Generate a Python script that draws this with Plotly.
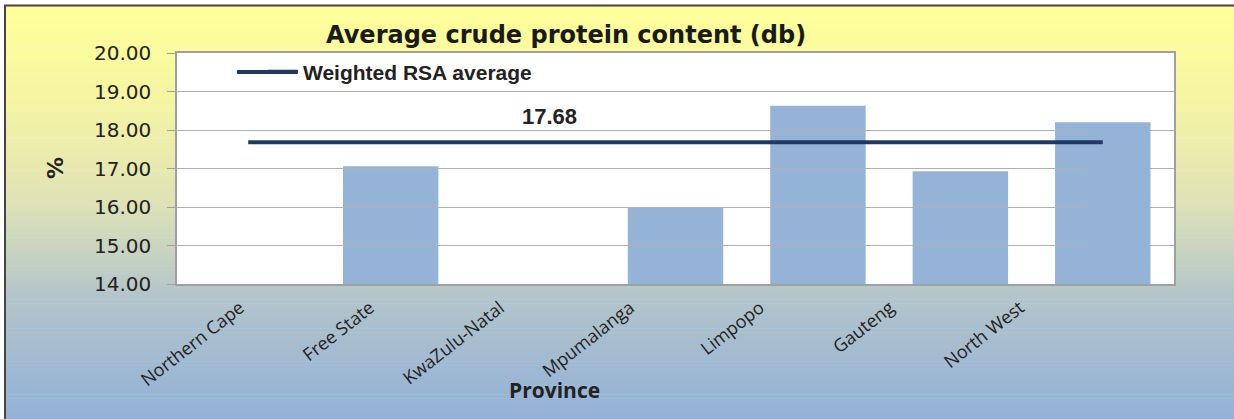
import plotly.graph_objects as go

# Data
provinces = ['Northern Cape', 'Free State', 'KwaZulu-Natal', 'Mpumalanga',
             'Limpopo', 'Gauteng', 'North West']
protein = [None, 17.06, None, 15.99, 18.63, 16.93, 18.20]
rsa_avg = 17.68

W, H = 1234, 419
L, R, T, B = 177, 60, 53, 135
pw, ph = W - L - R, H - T - B
NAVY = '#1F3864'


def px(x):
    return (x - L) / pw


def py(y):
    return (H - B - y) / ph


def hexrgb(h):
    return [int(h[i:i + 2], 16) for i in (1, 3, 5)]


# background gradient of the chart area (yellow -> blue)
stops = [(6, '#FFFF99'), (100, '#F5F5A3'), (200, '#DFE3B6'), (300, '#B2C4CB'), (419, '#93B1D7')]
shapes = []
n = 100
for k in range(n):
    y0 = 6 + (H - 6) * k / n
    y1 = 6 + (H - 6) * (k + 1) / n
    ym = (y0 + y1) / 2
    for (a, ca), (b, cb) in zip(stops[:-1], stops[1:]):
        if a <= ym <= b:
            t = (ym - a) / (b - a)
            c = [round(u + (v - u) * t) for u, v in zip(hexrgb(ca), hexrgb(cb))]
            break
    shapes.append(dict(type='rect', xref='paper', yref='paper', layer='below',
                       x0=px(5), x1=px(W + 5), y0=py(y1 + 0.5), y1=py(y0),
                       fillcolor='rgb(%d,%d,%d)' % tuple(c), line=dict(width=0)))
# white plot area
shapes.append(dict(type='rect', xref='paper', yref='paper', layer='below',
                   x0=0, x1=1, y0=0, y1=1, fillcolor='white', line=dict(width=0)))
# chart frame
shapes.append(dict(type='rect', xref='paper', yref='paper', layer='above',
                   x0=px(5), x1=px(W + 20), y0=py(H + 20), y1=py(5.5),
                   fillcolor='rgba(0,0,0,0)', line=dict(color='#454545', width=2)))
# longer legend sample line
shapes.append(dict(type='line', xref='paper', yref='paper', layer='above',
                   x0=px(237), x1=px(297), y0=py(72), y1=py(72),
                   line=dict(color=NAVY, width=4)))

fig = go.Figure()
fig.add_trace(go.Bar(x=provinces, y=protein, marker=dict(color='#95B3D7', line=dict(width=0)),
                     showlegend=False))
fig.add_trace(go.Scatter(x=provinces, y=[rsa_avg] * len(provinces), mode='lines',
                         line=dict(color=NAVY, width=4), name='Weighted RSA average'))
# invisible helper so the label axis gets drawn
fig.add_trace(go.Scatter(x=list(range(len(provinces))), y=protein, xaxis='x2', yaxis='y',
                         mode='markers', marker=dict(opacity=0), hoverinfo='skip',
                         showlegend=False))

fig.update_layout(
    width=W, height=H, margin=dict(l=L, r=R, t=T, b=B, autoexpand=False),
    paper_bgcolor='white', plot_bgcolor='rgba(0,0,0,0)',
    bargap=0.33, shapes=shapes,
    legend=dict(x=px(263), y=py(72), xanchor='left', yanchor='middle',
                bgcolor='rgba(0,0,0,0)',
                font=dict(family='Liberation Sans', size=21, color='#222222', weight='bold')),
    annotations=[
        dict(text='<b>Average crude protein content (db)</b>', xref='paper', yref='paper',
             x=px(566), y=py(35), showarrow=False, xanchor='center', yanchor='middle',
             font=dict(family='DejaVu Sans', size=24, color='#1a1a1a')),
        dict(text='<b>%.2f</b>' % rsa_avg, x='KwaZulu-Natal', y=rsa_avg, xref='x', yref='y',
             showarrow=False, xshift=16, yshift=26, yanchor='middle',
             font=dict(family='Liberation Sans', size=22, color='#222222')),
        dict(text='<b>Province</b>', xref='paper', yref='paper', x=px(554), y=py(390),
             showarrow=False, xanchor='center', yanchor='middle',
             font=dict(family='Open Sans', size=21, color='#222222')),
        dict(text='<b>%</b>', xref='paper', yref='paper', x=px(55), y=py(168), textangle=-90,
             showarrow=False, xanchor='center', yanchor='middle',
             font=dict(family='DejaVu Sans', size=22, color='#222222')),
    ],
    xaxis=dict(showline=True, mirror=True, linecolor='#A0A0A0', linewidth=1.5,
               showticklabels=False, ticks='', showgrid=False, automargin=False),
    # category labels sit on a slightly narrower scale than the bars in the original
    xaxis2=dict(anchor='y', domain=[0, 910 / pw], range=[-0.5, len(provinces) - 0.5],
                tickvals=list(range(len(provinces))), ticktext=provinces,
                tickangle=-38, ticklabelstandoff=9, ticklabelshift=-2,
                tickfont=dict(family='Open Sans', size=18, color='#222222'),
                showgrid=False, zeroline=False, showline=False, ticks='', automargin=False),
)

fig.update_yaxes(range=[14, 20], dtick=1, tickformat='.2f', showline=True, mirror=True,
                 linecolor='#A0A0A0', linewidth=1.5, gridcolor='#B0B0B0', gridwidth=1,
                 ticks='outside', ticklen=8, tickcolor='#A0A0A0', zeroline=False,
                 ticklabelstandoff=12, automargin=False,
                 tickfont=dict(family='DejaVu Sans', size=20, color='#222222'))

fig.write_html('out.html', config={'displayModeBar': False},
               post_script="document.body.style.margin='0px';")
